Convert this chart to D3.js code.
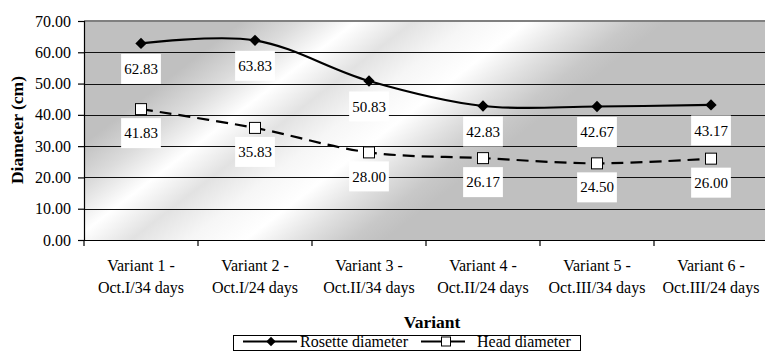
<!DOCTYPE html>
<html>
<head>
<meta charset="utf-8">
<script src="https://cdn.jsdelivr.net/npm/d3@7/dist/d3.min.js"></script>
</head>
<body style="margin:0;padding:0;background:#fff">
<svg id="chart" width="765" height="351" style="display:block"></svg>
<script>
// Planting variants (two-line labels)
const categories = [
  ["Variant 1 -", "Oct.I/34 days"],
  ["Variant 2 -", "Oct.I/24 days"],
  ["Variant 3 -", "Oct.II/34 days"],
  ["Variant 4 -", "Oct.II/24 days"],
  ["Variant 5 -", "Oct.III/34 days"],
  ["Variant 6 -", "Oct.III/24 days"]
];
// Mean diameters, cm
const rosetteDiameter = [62.83, 63.83, 50.83, 42.83, 42.67, 43.17];
const headDiameter = [41.83, 35.83, 28.00, 26.17, 24.50, 26.00];
const yTicks = [0, 10, 20, 30, 40, 50, 60, 70];
const seriesNames = ["Rosette diameter", "Head diameter"];

const FONT = '"Liberation Serif"';
const svg = d3.select("#chart");
const plot = { left: 84, top: 21, right: 768, bottom: 240 };

const keys = categories.map(c => c.join(" "));
const x = d3.scaleBand().domain(keys).range([plot.left, plot.right]).padding(0);
const y = d3.scaleLinear().domain([0, 70]).range([plot.bottom, plot.top]);
const cx = i => x(keys[i]) + x.bandwidth() / 2;

// Silver-style diagonal gradient for the plot area
const defs = svg.append("defs");
const grad = defs.append("linearGradient")
  .attr("id", "silver")
  .attr("gradientUnits", "userSpaceOnUse")
  .attr("x1", 0).attr("y1", 0).attr("x2", 611).attr("y2", 791);
[
  [0, "#c0c0c0"], [0.165, "#c0c0c0"], [0.20, "#dcdcdc"], [0.235, "#ffffff"],
  [0.27, "#e2e2e2"], [0.305, "#f6f6f6"], [0.34, "#ffffff"], [0.375, "#e0e0e0"],
  [0.405, "#c8c8c8"], [0.425, "#c0c0c0"], [1, "#c0c0c0"]
].forEach(([o, c]) => grad.append("stop").attr("offset", o).attr("stop-color", c));

svg.append("rect")
  .attr("x", plot.left).attr("y", plot.top)
  .attr("width", plot.right - plot.left).attr("height", plot.bottom - plot.top)
  .attr("fill", "url(#silver)");

// Horizontal gridlines
svg.append("g")
  .selectAll("line")
  .data(yTicks.filter(t => t > 0 && t < 70))
  .join("line")
  .attr("x1", plot.left).attr("x2", plot.right)
  .attr("y1", d => Math.round(y(d)) + 0.5).attr("y2", d => Math.round(y(d)) + 0.5)
  .attr("stroke", "#111").attr("stroke-width", 1.2);

// Top border of plot area
svg.append("line")
  .attr("x1", plot.left).attr("x2", plot.right)
  .attr("y1", plot.top).attr("y2", plot.top)
  .attr("stroke", "#808080").attr("stroke-width", 2);

// Y axis
const yAxis = svg.append("g")
  .attr("transform", `translate(${plot.left},0)`)
  .call(d3.axisLeft(y).tickValues(yTicks).tickFormat(d3.format(".2f")).tickSize(6).tickPadding(7));
yAxis.select(".domain").attr("stroke", "#000").attr("stroke-width", 1.2);
yAxis.selectAll(".tick line").attr("stroke", "#000").attr("stroke-width", 1.2);
yAxis.selectAll(".tick text")
  .style("font-family", FONT).style("font-size", "16px").attr("fill", "#000");

// X axis baseline and boundary ticks
svg.append("line")
  .attr("x1", plot.left).attr("x2", plot.right)
  .attr("y1", plot.bottom + 0.5).attr("y2", plot.bottom + 0.5)
  .attr("stroke", "#000").attr("stroke-width", 1.2);
svg.append("g").selectAll("line")
  .data(keys.concat(["end"]))
  .join("line")
  .attr("x1", (d, i) => plot.left + i * x.bandwidth()).attr("x2", (d, i) => plot.left + i * x.bandwidth())
  .attr("y1", plot.bottom).attr("y2", plot.bottom + 6)
  .attr("stroke", "#000").attr("stroke-width", 1.2);

// X tick labels
const xl = svg.append("g").selectAll("text")
  .data(categories)
  .join("text")
  .attr("text-anchor", "middle")
  .style("font-family", FONT).style("font-size", "16px")
  .attr("fill", "#000");
xl.append("tspan").attr("x", (d, i) => cx(i)).attr("y", 270.5).text(d => d[0]);
xl.append("tspan").attr("x", (d, i) => cx(i)).attr("y", 292.5).text(d => d[1]);

// Axis titles
svg.append("text")
  .attr("x", 432).attr("y", 328)
  .attr("text-anchor", "middle")
  .style("font-family", FONT).style("font-weight", "bold").style("font-size", "17.5px")
  .text("Variant");
svg.append("text")
  .attr("transform", "translate(23,130) rotate(-90)")
  .attr("text-anchor", "middle")
  .style("font-family", FONT).style("font-weight", "bold").style("font-size", "17.5px")
  .text("Diameter (cm)");

// Series lines
const line = d3.line()
  .x((d, i) => cx(i))
  .y(d => y(d))
  .curve(d3.curveCatmullRom.alpha(0.5));

svg.append("path")
  .attr("d", line(rosetteDiameter))
  .attr("fill", "none").attr("stroke", "#000").attr("stroke-width", 2.2);
svg.append("path")
  .attr("d", line(headDiameter))
  .attr("fill", "none").attr("stroke", "#000").attr("stroke-width", 2.2)
  .attr("stroke-dasharray", "12,7");

// Markers
svg.append("g").selectAll("path")
  .data(rosetteDiameter)
  .join("path")
  .attr("d", d3.symbol().type(d3.symbolSquare).size(64))
  .attr("transform", (d, i) => `translate(${cx(i)},${y(d)}) rotate(45)`)
  .attr("fill", "#000");
svg.append("g").selectAll("rect")
  .data(headDiameter)
  .join("rect")
  .attr("x", (d, i) => cx(i) - 5.5).attr("y", d => y(d) - 5.5)
  .attr("width", 11).attr("height", 11)
  .attr("fill", "#fff").attr("stroke", "#000").attr("stroke-width", 1);

// Data labels in white boxes below each point
function labels(values, offset) {
  const g = svg.append("g").selectAll("g")
    .data(values)
    .join("g")
    .attr("transform", (d, i) => `translate(${cx(i)},${y(d) + offset})`);
  g.append("text")
    .attr("text-anchor", "middle").attr("dy", "0.34em")
    .style("font-family", FONT).style("font-size", "15px").attr("fill", "#000")
    .text(d => d3.format(".2f")(d));
  g.each(function () {
    const txt = d3.select(this).select("text");
    const w = txt.node().getComputedTextLength() + 6;
    d3.select(this).insert("rect", "text")
      .attr("x", -w / 2).attr("y", -15).attr("width", w).attr("height", 30)
      .attr("fill", "#fff");
  });
}
labels(rosetteDiameter, 25.5);
labels(headDiameter, 24);

// Legend
const lg = svg.append("g");
lg.append("rect")
  .attr("x", 233.5).attr("y", 335.5).attr("width", 347).attr("height", 15)
  .attr("fill", "#fff").attr("stroke", "#000").attr("stroke-width", 1);
lg.append("line").attr("x1", 243).attr("x2", 297).attr("y1", 341.5).attr("y2", 341.5)
  .attr("stroke", "#000").attr("stroke-width", 2.2);
lg.append("path")
  .attr("d", d3.symbol().type(d3.symbolSquare).size(45))
  .attr("transform", "translate(271,341.5) rotate(45)").attr("fill", "#000");
lg.append("text").attr("x", 300).attr("y", 347)
  .style("font-family", FONT).style("font-size", "16px").text(seriesNames[0]);
lg.append("line").attr("x1", 421).attr("x2", 465).attr("y1", 341.5).attr("y2", 341.5)
  .attr("stroke", "#000").attr("stroke-width", 2.2);
lg.append("rect").attr("x", 441.5).attr("y", 337).attr("width", 9).attr("height", 9)
  .attr("fill", "#fff").attr("stroke", "#000").attr("stroke-width", 1);
lg.append("text").attr("x", 477).attr("y", 347)
  .style("font-family", FONT).style("font-size", "16px").text(seriesNames[1]);
</script>
</body>
</html>
